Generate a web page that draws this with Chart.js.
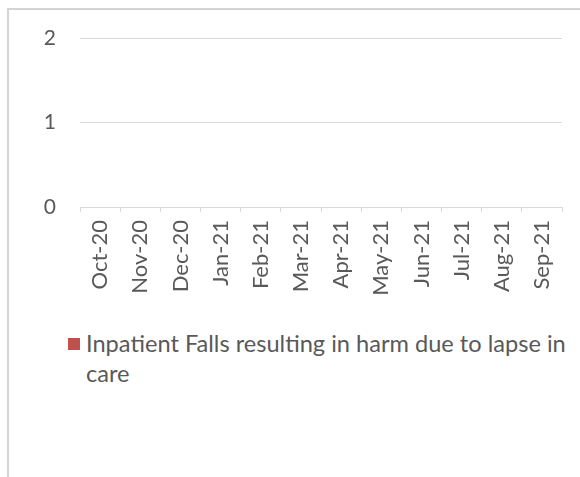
<!DOCTYPE html>
<html>
<head>
<meta charset="utf-8">
<script src="https://cdn.jsdelivr.net/npm/chart.js@4.4.0/dist/chart.umd.min.js"></script>
<style>
  html, body { margin: 0; padding: 0; background: #fff; }
  #wrap { position: relative; width: 580px; height: 477px; overflow: hidden; }
  /* 枠線（左と上だけ見える） */
  #frame { position: absolute; left: 7px; top: 8px; width: 600px; height: 500px;
           border-left: 2px solid #d4d4d4; border-top: 2px solid #d4d4d4; }
  #chart-box { position: absolute; left: 0; top: 0; width: 580px; height: 320px; }
  #legend { position: absolute; left: 68px; top: 328px; width: 500px;
            font-family: Lato, "Open Sans", sans-serif; font-size: 23.6px; line-height: 30px; color: #595959; }
  #legend .item { position: relative; padding-left: 18px; }
  #legend .box { position: absolute; left: 0; top: 10px; width: 12px; height: 12px; }
</style>
</head>
<body>
<div id="wrap">
  <div id="frame"></div>
  <div id="chart-box"><canvas id="falls"></canvas></div>
  <div id="legend"></div>
</div>
<script>
// * =============== データ =============== *
const months = ["Oct-20", "Nov-20", "Dec-20", "Jan-21", "Feb-21", "Mar-21",
                "Apr-21", "May-21", "Jun-21", "Jul-21", "Aug-21", "Sep-21"];
const fallsHarm = [0, 0, 0, 0, 0, 0, 0, 0, 0, 0, 0, 0];
const seriesName = "Inpatient Falls resulting in harm due to lapse in care";
const yTicks = [0, 1, 2];

const textColor = "#595959";
const gridColor = "#d9d9d9";
const barColor = "#c0504d";
const fontFamily = "Lato, 'Open Sans', sans-serif";

const chart = new Chart(document.getElementById("falls"), {
    type: "bar",
    data: {
        labels: months,
        datasets: [{
            label: seriesName,
            data: fallsHarm,
            backgroundColor: barColor,
            borderWidth: 0
        }]
    },
    options: {
        responsive: true,
        maintainAspectRatio: false,
        animation: false,
        layout: { padding: { top: 38, right: 18, left: 0, bottom: 0 } },
        plugins: {
            legend: { display: false }, //凡例はHTMLで下に出す
            tooltip: { enabled: false }
        },
        scales: {
            x: {
                grid: {
                    offset: true,
                    drawOnChartArea: false,
                    drawTicks: true,
                    tickLength: 5,
                    color: gridColor
                },
                border: { color: gridColor, width: 1 },
                ticks: {
                    minRotation: 90,
                    maxRotation: 90,
                    autoSkip: false,
                    padding: 8,
                    color: textColor,
                    font: { family: fontFamily, size: 22 }
                },
                afterFit: function (scale) { scale.height = 113; }
            },
            y: {
                min: 0,
                max: 2,
                afterBuildTicks: function (scale) {
                    scale.ticks = yTicks.map(v => ({ value: v }));
                },
                grid: { drawTicks: false, color: gridColor, lineWidth: 1 },
                border: { display: false },
                ticks: {
                    padding: 24,
                    color: textColor,
                    font: { family: fontFamily, size: 21 }
                },
                afterFit: function (scale) { scale.width = 80; }
            }
        }
    }
});

// 凡例
const legendEl = document.getElementById("legend");
chart.data.datasets.forEach(ds => {
    const item = document.createElement("div");
    item.className = "item";
    const box = document.createElement("span");
    box.className = "box";
    box.style.background = ds.backgroundColor;
    item.appendChild(box);
    item.appendChild(document.createTextNode(ds.label));
    legendEl.appendChild(item);
});
</script>
</body>
</html>
